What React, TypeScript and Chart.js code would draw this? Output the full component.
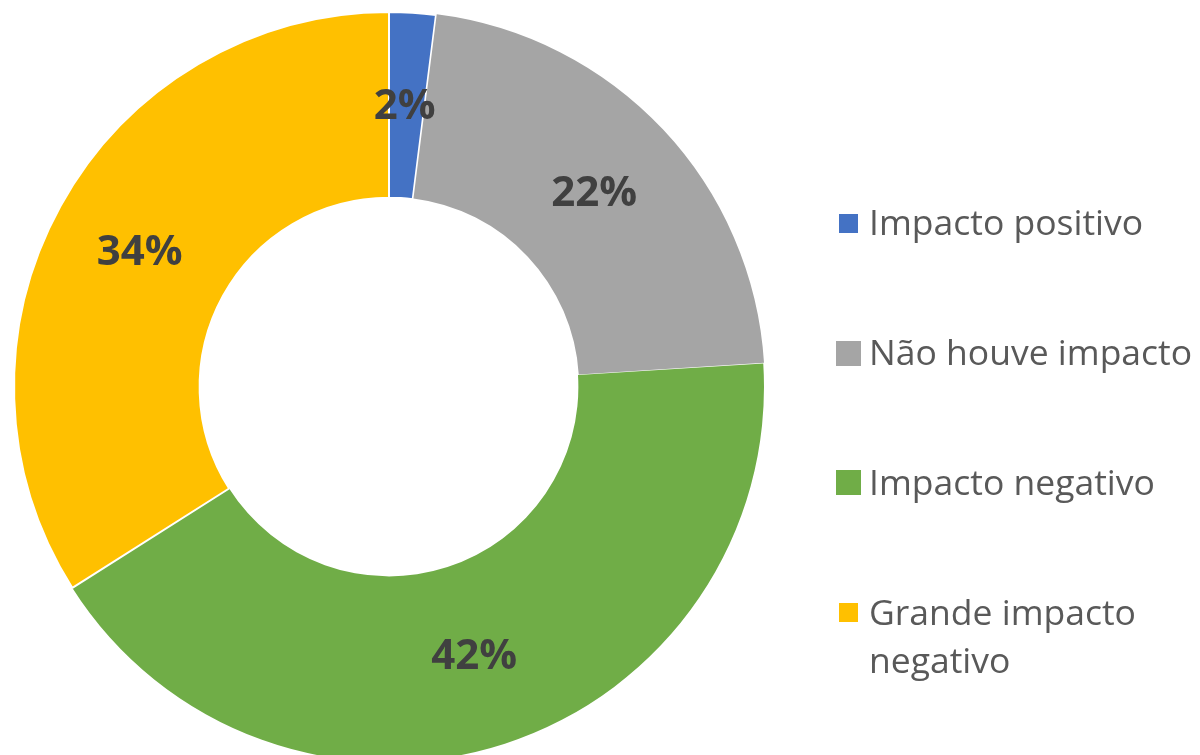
import React, { useEffect, useRef } from "react";
import { Chart, registerables } from "chart.js";

Chart.register(...registerables);

const categories = ["Impacto positivo", "Não houve impacto", "Impacto negativo", "Grande impacto negativo"];
const legendLines = [["Impacto positivo"], ["Não houve impacto"], ["Impacto negativo"], ["Grande impacto", "negativo"]];
const values = [2, 22, 42, 34];
const colors = ["#4472C4", "#A5A5A5", "#70AD47", "#FFC000"];

const FONT = "'Open Sans', 'Noto Sans', sans-serif";

const labelPlugin = {
  id: "labels",
  afterDatasetsDraw(chart: any) {
    const ctx = chart.ctx;
    const meta = chart.getDatasetMeta(0);
    ctx.save();
    ctx.font = `bold 42px ${FONT}`;
    ctx.fillStyle = "#404040";
    ctx.textAlign = "center";
    ctx.textBaseline = "middle";
    meta.data.forEach((arc: any, i: number) => {
      const p = arc.tooltipPosition();
      ctx.fillText(values[i] + "%", p.x - 2, p.y + 2);
    });
    ctx.restore();
  },
};

const legendPlugin = {
  id: "customLegend",
  afterDraw(chart: any) {
    const ctx = chart.ctx;
    const baselines = [235, 365, 495, 625];
    const boxes = [
      [839, 214, 19],
      [836, 341, 25],
      [836, 470, 25],
      [839, 603, 19],
    ];
    ctx.save();
    ctx.font = `35.5px ${FONT}`;
    ctx.textBaseline = "alphabetic";
    ctx.textAlign = "left";
    categories.forEach((c, i) => {
      const [bx, by, bs] = boxes[i];
      ctx.fillStyle = colors[i];
      ctx.fillRect(bx, by, bs, bs);
      ctx.fillStyle = "#595959";
      legendLines[i].forEach((line, j) => {
        ctx.fillText(line, 869, baselines[i] + j * 48);
      });
    });
    ctx.restore();
  },
};

export default function App() {
  const ref = useRef<HTMLCanvasElement>(null);
  useEffect(() => {
    const chart = new Chart(ref.current!, {
      type: "doughnut",
      data: {
        labels: categories,
        datasets: [
          {
            data: values,
            backgroundColor: colors,
            borderColor: "#FFFFFF",
            borderWidth: [2, 0, 0, 2],
            offset: [0, 4, 0, 0],
          },
        ],
      },
      options: {
        animation: false,
        responsive: false,
        maintainAspectRatio: false,
        cutout: "50.5%",
        layout: { padding: { left: 11, top: 9, right: 433, bottom: 10 } },
        plugins: {
          legend: { display: false },
          tooltip: { enabled: false },
        },
      },
      plugins: [labelPlugin, legendPlugin],
    });
    return () => chart.destroy();
  }, []);
  return (
    <div style={{ position: "fixed", left: 0, top: 0, width: 1200, height: 755, overflow: "hidden", background: "#fff" }}>
      <canvas ref={ref} width={1200} height={775} style={{ width: 1200, height: 775, display: "block" }} />
    </div>
  );
}
